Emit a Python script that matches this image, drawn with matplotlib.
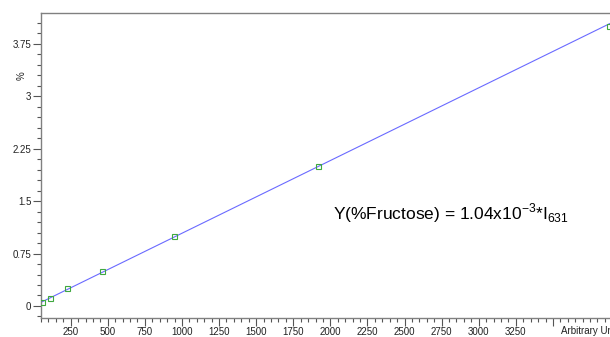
import numpy as np
import matplotlib.pyplot as plt
from matplotlib.ticker import MultipleLocator

plt.rcParams['font.family'] = ['Liberation Sans', 'DejaVu Sans']

# calibration standards: fructose concentration (%) vs. intensity at 631 nm
conc = [0.05, 0.12, 0.25, 0.5, 1.0, 2.0, 4.0]
intensity = [57, 113, 227, 459, 946, 1914, 3879]
slope = 1.04e-3

fig = plt.figure(figsize=(6.10, 3.37), dpi=100)
ax = fig.add_axes([40.7 / 610, 19 / 337, 590 / 610, 305 / 337])

xfit = np.array([intensity[0], intensity[-1] * 1.05])
ax.plot(xfit, slope * xfit, color='#6a6aff', lw=0.8, zorder=2)
ax.plot(intensity, conc, ls='none', marker='s', ms=3.6, mfc='none',
        mec='#3fa83f', mew=0.8, zorder=3)

ax.set_xlim(48, 4024)
ax.set_ylim(-0.172, 4.19)

ax.xaxis.set_minor_locator(MultipleLocator(50))
ax.yaxis.set_minor_locator(MultipleLocator(0.15))

xt = np.arange(250, 3750, 250)
ax.set_xticks(xt)
ax.set_xticklabels([str(v) if v <= 3250 else '' for v in xt])
yt = np.arange(0, 4.0, 0.75)
ax.set_yticks(yt)
ax.set_yticklabels(['0', '0.75', '1.5', '2.25', '3', '3.75'])

for s in ['left', 'bottom', 'top']:
    ax.spines[s].set_color('#808080')
    ax.spines[s].set_linewidth(1.0)
ax.spines['right'].set_visible(False)

ax.tick_params(which='major', length=5.5, width=0.8, color='#555555',
               labelsize=7, pad=1.2, labelcolor='#222222')
ax.tick_params(which='minor', length=3, width=0.8, color='#555555')

ax.text(561 / 610, (337 - 331.5) / 337, 'Arbitrary Units',
        transform=fig.transFigure, fontsize=7, color='#222222',
        ha='left', va='center')
ax.text(22 / 610, (337 - 76) / 337, '%', transform=fig.transFigure,
        fontsize=7, color='#222222', ha='center', va='center', rotation=90)

ax.text(333 / 610, (337 - 213) / 337,
        r'Y(%Fructose) = 1.04x10$^{\mathregular{-3}}$*I$_{\mathregular{631}}$',
        transform=fig.transFigure, fontsize=12.5, color='black',
        ha='left', va='center')

fig.savefig('out.png', dpi=100)
